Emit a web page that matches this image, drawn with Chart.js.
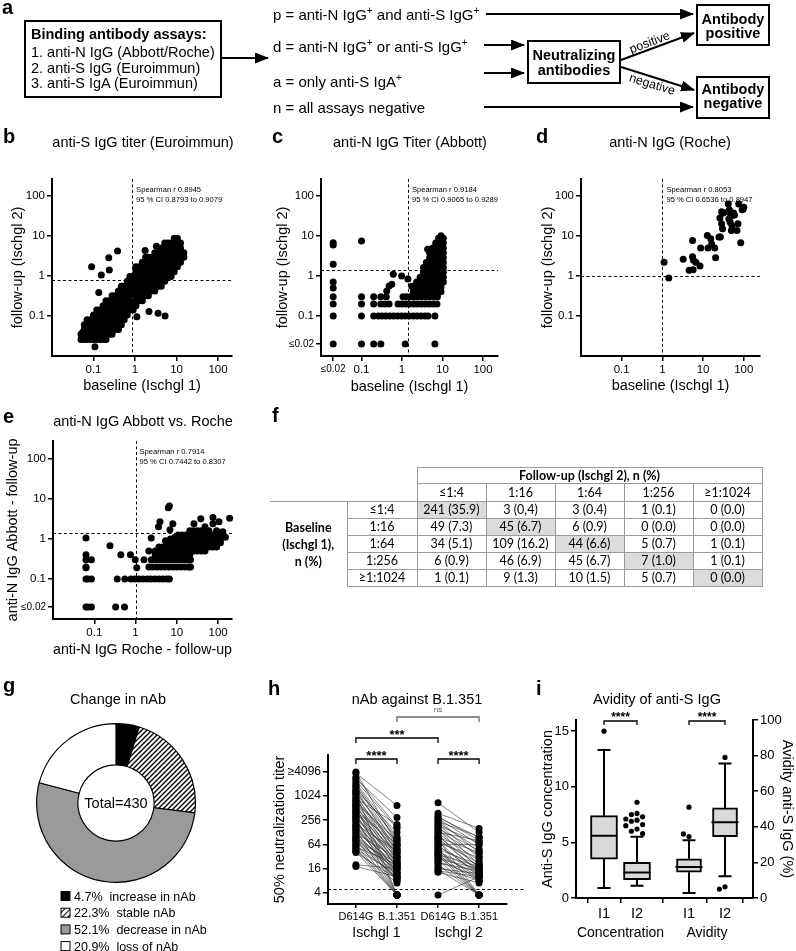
<!DOCTYPE html>
<html>
<head>
<meta charset="utf-8">
<script src="https://cdn.jsdelivr.net/npm/chart.js@4.4.1/dist/chart.umd.min.js"></script>
<style>
html,body{margin:0;padding:0;background:#fff;}
#page{position:relative;width:796px;height:951px;overflow:hidden;background:#fff;font-family:"Liberation Sans",Arial,sans-serif;}
#page canvas{position:absolute;}
#ov{position:absolute;left:0;top:0;z-index:5;pointer-events:none;}
#ft{position:absolute;left:270px;top:467px;width:492px;border-collapse:collapse;table-layout:fixed;font-family:Lato,"Open Sans",sans-serif;font-size:12.5px;z-index:6;color:#000;}
#ft td{padding:0;border:1px solid #9a9a9a;text-align:center;vertical-align:middle;line-height:14px;white-space:nowrap;}
#ft td.nb{border:none;}
#ft td.bb{border:none;border-bottom:1px solid #9a9a9a;}
#ft td.sh{background:#dcdcdc;}
#ft td.bl{border-left:none;border-bottom:none;font-weight:bold;line-height:17px;}
#ft td.hd{font-weight:bold;}
</style>
</head>
<body>
<div id="page">
<svg id="ov" width="796" height="951" xmlns="http://www.w3.org/2000/svg" font-family="'Liberation Sans', Arial, sans-serif">
<defs>
<marker id="ah" viewBox="0 0 14 11" markerWidth="14" markerHeight="11" refX="13" refY="5.5" orient="auto" markerUnits="userSpaceOnUse"><path d="M0,0 L14,5.5 L0,11 z" fill="#000"/></marker>
<pattern id="hp" width="4" height="4" patternUnits="userSpaceOnUse" patternTransform="rotate(45)"><rect width="4" height="4" fill="#fff"/><line x1="0" y1="0" x2="0" y2="4" stroke="#000" stroke-width="2"/></pattern>
</defs>
<g font-weight="bold" font-size="20">
<text x="2" y="14">a</text>
<text x="3" y="143">b</text>
<text x="272" y="143">c</text>
<text x="536" y="143">d</text>
<text x="3" y="423">e</text>
<text x="272" y="422">f</text>
<text x="3" y="692">g</text>
<text x="268" y="695">h</text>
<text x="536" y="695">i</text>
</g>
<g font-size="14.5" text-anchor="middle">
<text x="143" y="147">anti-S IgG titer (Euroimmun)</text>
<text x="410" y="147">anti-N IgG Titer (Abbott)</text>
<text x="670" y="147">anti-N IgG (Roche)</text>
<text x="143" y="426">anti-N IgG Abbott vs. Roche</text>
<text x="118" y="704">Change in nAb</text>
<text x="417" y="704">nAb against B.1.351</text>
<text x="657" y="704">Avidity of anti-S IgG</text>
</g>
<g font-size="14.5">
<rect x="25" y="21" width="196" height="76" fill="none" stroke="#000" stroke-width="2"/>
<text x="31" y="39" font-weight="bold">Binding antibody assays:</text>
<text x="31" y="57">1. anti-N IgG (Abbott/Roche)</text>
<text x="31" y="73">2. anti-S IgG (Euroimmun)</text>
<text x="31" y="88">3. anti-S IgA (Euroimmun)</text>
<text x="273" y="20" font-size="15">p = anti-N IgG<tspan font-size="10" dy="-6">+</tspan><tspan dy="6"> and anti-S IgG</tspan><tspan font-size="10" dy="-6">+</tspan></text>
<text x="273" y="52" font-size="15">d = anti-N IgG<tspan font-size="10" dy="-6">+</tspan><tspan dy="6"> or anti-S IgG</tspan><tspan font-size="10" dy="-6">+</tspan></text>
<text x="273" y="87" font-size="15">a = only anti-S IgA<tspan font-size="10" dy="-6">+</tspan></text>
<text x="273" y="113" font-size="15">n = all assays negative</text>
<g stroke="#000" stroke-width="2">
<line x1="221" y1="58" x2="268" y2="58" marker-end="url(#ah)"/>
<line x1="486" y1="14" x2="693" y2="14" marker-end="url(#ah)"/>
<line x1="484" y1="45" x2="524" y2="45" marker-end="url(#ah)"/>
<line x1="484" y1="73" x2="524" y2="73" marker-end="url(#ah)"/>
<line x1="484" y1="107" x2="693" y2="107" marker-end="url(#ah)"/>
<line x1="621" y1="60" x2="694" y2="33" marker-end="url(#ah)"/>
<line x1="621" y1="67" x2="694" y2="90" marker-end="url(#ah)"/>
</g>
<rect x="528" y="41" width="92" height="42" fill="#fff" stroke="#000" stroke-width="2"/>
<rect x="697" y="5" width="72" height="40" fill="#fff" stroke="#000" stroke-width="2"/>
<rect x="697" y="77" width="72" height="41" fill="#fff" stroke="#000" stroke-width="2"/>
<g font-weight="bold" text-anchor="middle">
<text x="574" y="60">Neutralizing</text>
<text x="574" y="75">antibodies</text>
<text x="733" y="24">Antibody</text>
<text x="733" y="38">positive</text>
<text x="733" y="94">Antibody</text>
<text x="733" y="108">negative</text>
</g>
<text transform="translate(651,46) rotate(-21)" text-anchor="middle" font-size="12.5">positive</text>
<text transform="translate(651,88) rotate(17)" text-anchor="middle" font-size="12.5">negative</text>
</g>
<g id="gextra"></g>
</svg>
<table id="ft"></table>
</div>
<script>
// ================= DATA =================
// b: anti-S IgG (Euroimmun) baseline vs follow-up; dense cloud read column by column [x, [y...]]
const bCloud = [
 [0.05,[0.026,0.035]],
 [0.06,[0.026,0.035,0.046,0.06]],
 [0.07,[0.026,0.035,0.046,0.06,0.08]],
 [0.085,[0.026,0.035,0.046,0.06,0.08]],
 [0.1,[0.026,0.035,0.046,0.06,0.08,0.105]],
 [0.12,[0.026,0.035,0.046,0.06,0.08,0.105,0.14]],
 [0.14,[0.026,0.035,0.046,0.06,0.08,0.105,0.14]],
 [0.17,[0.026,0.035,0.046,0.06,0.08,0.105,0.14,0.18]],
 [0.2,[0.026,0.035,0.046,0.06,0.08,0.105,0.14,0.18,0.24]],
 [0.24,[0.035,0.046,0.06,0.08,0.105,0.14,0.18,0.24]],
 [0.28,[0.035,0.046,0.06,0.08,0.105,0.14,0.18,0.24,0.32]],
 [0.33,[0.046,0.06,0.08,0.105,0.14,0.18,0.24,0.32]],
 [0.4,[0.046,0.06,0.08,0.105,0.14,0.18,0.24,0.32,0.42]],
 [0.47,[0.06,0.08,0.105,0.14,0.18,0.24,0.32,0.42,0.55]],
 [0.55,[0.08,0.105,0.14,0.18,0.24,0.32,0.42,0.55]],
 [0.65,[0.105,0.14,0.18,0.24,0.32,0.42,0.55,0.73]],
 [0.75,[0.14,0.24,0.32,0.42,0.55,0.73,0.96]],
 [0.9,[0.14,0.18,0.42,0.55,0.73,0.96]],
 [1.05,[0.18,0.24,0.32,0.55,0.73,0.96,1.27,1.7]],
 [1.25,[0.24,0.32,0.42,0.55,0.73,0.96,1.27,1.7]],
 [1.5,[0.24,0.32,0.42,0.55,0.73,0.96,1.27,1.7,2.2]],
 [1.8,[0.32,0.42,0.55,0.73,0.96,1.27,1.7,2.2,2.9]],
 [2.1,[0.32,0.42,0.55,0.73,0.96,1.27,1.7,2.2,2.9]],
 [2.5,[0.42,0.55,0.73,0.96,1.27,1.7,2.2,2.9]],
 [3,[0.42,0.55,0.73,0.96,1.27,1.7,2.2,2.9,3.8]],
 [3.6,[0.55,0.73,0.96,1.27,1.7,2.2,2.9,3.8]],
 [4.3,[0.55,0.73,0.96,1.27,1.7,2.2,2.9,3.8,5]],
 [5.2,[0.73,0.96,1.27,1.7,2.2,2.9,3.8,5,6.6]],
 [6.2,[0.96,1.27,1.7,2.2,2.9,3.8,5,6.6]],
 [7.4,[0.96,1.27,1.7,2.2,2.9,3.8,5,6.6]],
 [8.8,[1.27,1.7,2.2,2.9,3.8,5,6.6,8.7]],
 [10.5,[1.7,2.2,2.9,3.8,5,6.6,8.7]],
 [12.5,[2.2,2.9,3.8,5,6.6]],
 [15,[2.9,3.8]]
];
const bOutliers = [[0.09,1.7],[0.154,1.06],[0.24,1.4],[0.233,2.85],[0.38,4.2],[0.134,0.385],[1.75,4.3],[3.27,5.5],[2.17,0.13],[3.6,0.116],[5.3,0.1],[1.11,0.096],[0.055,0.039],[0.108,0.017]];

// c: anti-N IgG (Abbott)
const cRowY = [0.3, 0.2, 0.1, 0.02];
const cRowX = [
 [0.02,0.1,0.2,0.3,0.41,1.06,1.3,1.6,2.0,2.5,3.1,3.9,4.8,6.0,7.5],
 [0.02,0.1,0.2,0.3,0.38,0.48,0.8,1.0,1.25,1.55,1.95,2.4,3.0,3.75,4.7,5.9,7.3],
 [0.02,0.1,0.2,0.26,0.32,0.4,0.5,0.62,0.78,0.97,1.2,1.5,1.9,2.35,2.95,3.7,4.4,6.5],
 [0.02,0.1,0.2,0.3,1.2,6.5]
];
const cCloud = [
 [1.9,[0.4,0.53]],
 [2.3,[0.4,0.53,0.7]],
 [2.8,[0.4,0.53,0.7,0.93]],
 [3.4,[0.4,0.53,0.7,0.93,1.23,1.63]],
 [4.0,[0.4,0.53,0.7,0.93,1.23,1.63,2.15]],
 [4.8,[0.4,0.53,0.7,0.93,1.23,1.63,2.15,2.85,3.8]],
 [5.7,[0.4,0.53,0.7,0.93,1.23,1.63,2.15,2.85,3.8,5]],
 [6.8,[0.4,0.53,0.7,0.93,1.23,1.63,2.15,2.85,3.8,5,6.6]],
 [8.0,[0.4,0.53,0.7,0.93,1.23,1.63,2.15,2.85,3.8,5,6.6,8.7]],
 [9.2,[0.4,0.53,0.7,0.93,1.23,1.63,2.15,2.85,3.8,5,6.6,8.7,10]],
 [10.5,[0.7,0.93,1.23,1.63,2.15,2.85,3.8,5,6.6,8.7]]
];
const cScatter = [[0.02,6.7],[0.02,5.9],[0.02,1.95],[0.02,0.7],[0.02,0.5],[0.1,7.4],[0.61,1.1],[0.98,1.0],[0.48,0.56],[0.56,0.62],[0.42,0.42],[1.4,0.84],[1.75,0.55],[4.3,4.6]];

// d: anti-N IgG (Roche)
const dPoints = [[1.1,2.2],[1.43,0.89],[3.25,2.6],[5.5,7.7],[5.5,3.0],[5.8,2.45],[4.55,1.38],[5.7,1.43],[6.6,2.2],[8.4,1.77],[8.7,4.95],[13.2,4.95],[12.7,10.2],[15.4,8.4],[16.2,6.3],[19.3,4.95],[20.3,2.85],[24.5,9.3],[26.5,9.3],[25.9,28],[28.5,40],[31.5,37],[28.5,20],[30,15],[41.5,62],[41.5,40],[43,26.5],[44,45],[46,37],[46,22],[49.5,13.6],[51,18],[53,32],[56,37],[59,33],[68,13.6],[72,20],[75,62],[84,6.7],[91,45],[100,52],[96,47]];

// e: anti-N IgG Abbott vs Roche (follow-up)
const eRowY = [0.3, 0.2, 0.1, 0.02];
const eRowX = [
 [0.063,0.085,0.98,1.6,2.4,3.0,3.7,4.6,5.8,7.2,9,11.2,14,17.5,21.5],
 [0.063,2.1,2.6,3.3,4.1,5.1,6.4,8,10,12.5,15.6,19.5,21.5],
 [0.063,0.07,0.085,0.36,0.55,0.77,0.96,1.2,1.5,1.9,2.35,2.95,3.7,4.6,5.7,6.6],
 [0.063,0.07,0.085,0.33,0.54]
];
const eCloud = [
 [3.0,[0.4,0.5]],
 [3.7,[0.4,0.5,0.63]],
 [4.6,[0.4,0.5,0.63]],
 [5.7,[0.4,0.5,0.63,0.8]],
 [7,[0.4,0.5,0.63,0.8,1.0]],
 [8.7,[0.4,0.5,0.63,0.8,1.0]],
 [10.8,[0.4,0.5,0.63,0.8,1.0,1.26]],
 [13.4,[0.4,0.5,0.63,0.8,1.0,1.26]],
 [16.6,[0.4,0.5,0.63,0.8,1.0,1.26]],
 [20.6,[0.4,0.5,0.63,0.8,1.0,1.26,1.6]],
 [25.5,[0.5,0.63,0.8,1.0,1.26,1.6]],
 [31.6,[0.5,0.63,0.8,1.0,1.26,1.6]],
 [39,[0.5,0.63,0.8,1.0,1.26,1.6]],
 [48,[0.5,0.63,0.8,1.0,1.26,1.6,2.0]],
 [60,[0.63,0.8,1.0,1.26,1.6]],
 [74,[0.63,0.8,1.0,1.26]],
 [92,[0.63,0.8,1.0,1.26,1.6]],
 [114,[0.8,1.0,1.26]]
];
const eScatter = [[0.063,1.06],[0.063,0.4],[0.063,0.19],[0.24,0.67],[0.44,0.4],[0.75,0.4],[1.07,0.19],[6.6,6.6],[6.2,6.0],[3.9,2.7],[3.6,2.0],[8,2.4],[6.8,1.7],[2.4,1.06],[5.3,0.9],[9,1.1],[2.1,0.5],[26,2.4],[38,3.2],[75,2.4],[75,3.4],[105,2.7],[190,3.3],[130,1.5],[150,1.1]];

// f: cross table
const fCols = ['≤1:4','1:16','1:64','1:256','≥1:1024'];
const fRows = ['≤1:4','1:16','1:64','1:256','≥1:1024'];
const fCounts = [[241,3,3,1,0],[49,45,6,0,0],[34,109,44,5,1],[6,46,45,7,1],[1,9,10,5,0]];
const fPct = [['35.9','0,4','0.4','0.1','0.0'],['7.3','6.7','0.9','0.0','0.0'],['5.1','16.2','6.6','0.7','0.1'],['0.9','6.9','6.7','1.0','0.1'],['0.1','1.3','1.5','0.7','0.0']];

// g: change in nAb
const gLabels = ['increase in nAb','stable nAb','decrease in nAb','loss of nAb'];
const gValues = [4.7, 22.3, 52.1, 20.9];
const gTotal = 430;

// h: nAb against B.1.351 (pairs: D614G, B.1.351)
const hCats = ['D614G','B.1.351','D614G','B.1.351'];
const hGroups = ['Ischgl 1','Ischgl 2'];
const hYTicks = [4,16,64,256,1024,4096];
const hYLabels = ['4','16','64','256','1024','≥4096'];
const hCutoff = 5;
const hIschgl1 = [[4096,64],[3800,600],[3000,180],[2800,300],[2500,160],[2200,100],[2000,80],[1800,60],[1700,90],[1500,40],[1400,128],[1300,50],[1200,70],[1100,30],[1000,45],[900,200],[850,35],[800,60],[750,25],[700,80],[650,40],[600,20],[560,32],[512,50],[480,16],[450,28],[420,64],[400,22],[380,40],[350,12],[330,24],[300,18],[280,32],[256,10],[240,20],[220,14],[200,45],[190,8],[180,24],[170,16],[160,12],[150,3.5],[140,20],[130,10],[120,30],[110,14],[100,8],[96,18],[90,3.5],[85,12],[80,22],[75,9],[70,16],[64,3.5],[60,10],[56,20],[52,3.5],[48,12],[45,7],[42,3.5],[40,9],[20,16],[18,10],[1200,3.5],[600,3.5],[300,3.5]];
const hIschgl2 = [[700,128],[380,160],[320,80],[300,96],[280,64],[256,40],[240,100],[220,50],[200,30],[190,70],[180,20],[160,45],[150,16],[140,35],[128,80],[120,25],[110,12],[100,18],[96,40],[90,14],[85,3.5],[80,22],[75,10],[70,30],[64,64],[60,12],[56,16],[52,3.5],[48,20],[45,8],[42,14],[40,3.5],[38,10],[36,18],[34,3.5],[32,12],[30,8],[28,16],[26,3.5],[24,10],[22,14],[20,3.5],[18,8],[16,12],[15,3.5],[14,10],[13,7],[3.5,10]];
const hSig = [{a:0,b:1,t:'****'},{a:2,b:3,t:'****'},{a:0,b:2,t:'***'},{a:1,b:3,t:'ns'}];

// i: avidity boxes (concentration on left axis, avidity % on right axis)
const iCats = ['I1','I2','I1','I2'];
const iGroups = ['Concentration','Avidity'];
const iConcBoxes = [{lo:0.9,q1:3.5,med:5.6,q3:7.4,hi:13.3},{lo:1.1,q1:1.65,med:2.3,q3:3.2,hi:5.5}];
const iAvidBoxes = [{lo:2.8,q1:14.5,med:17.4,q3:22,hi:32.5},{lo:12.2,q1:34.5,med:42.5,q3:50.6,hi:75.6}];
const iConcOut = [[15.0],[8.6,7.6,7.5,7.3,7.1,7.0,6.9,6.6,6.5,6.2,6.0,5.8]];
const iAvidOut = [[34.5,36,51],[79,6.3,5.0]];
const iSig = [{a:0,b:1,t:'****'},{a:2,b:3,t:'****'}];

// ================= LAYOUT / RENDER =================
const FONT = '"Liberation Sans", Arial, Helvetica, sans-serif';
Chart.defaults.font.family = FONT;
Chart.defaults.color = '#000';
Chart.defaults.animation = false;
Chart.defaults.responsive = false;
Chart.defaults.devicePixelRatio = 1;
Chart.defaults.plugins.legend.display = false;
Chart.defaults.plugins.tooltip.enabled = false;

const page = document.getElementById('page');
function mkCanvas(l,t,w,h){const c=document.createElement('canvas');c.width=w;c.height=h;c.style.left=l+'px';c.style.top=t+'px';c.style.width=w+'px';c.style.height=h+'px';page.appendChild(c);return c;}
const cols = arr => arr.flatMap(([x,ys]) => ys.map(y => [x,y]));
const rows = (ys, xs) => ys.flatMap((y,i) => xs[i].map(x => [x,y]));

const annoPlugin = {
 id:'anno',
 beforeDatasetsDraw(chart,args,o){
  const {ctx,chartArea:a,scales:{x,y}} = chart;
  ctx.save(); ctx.strokeStyle='#000'; ctx.lineWidth=1; ctx.setLineDash([3,2.5]);
  if(o.vx!=null){const px=Math.round(x.getPixelForValue(o.vx))+0.5;ctx.beginPath();ctx.moveTo(px,a.top);ctx.lineTo(px,a.bottom);ctx.stroke();}
  if(o.hy!=null){const py=Math.round(y.getPixelForValue(o.hy))+0.5;ctx.beginPath();ctx.moveTo(a.left,py);ctx.lineTo(a.right,py);ctx.stroke();}
  ctx.restore();
 },
 afterDatasetsDraw(chart,args,o){
  if(!o.text) return;
  const {ctx,chartArea:a,scales:{x}} = chart;
  ctx.save(); ctx.fillStyle='#000'; ctx.font='7.6px '+FONT; ctx.textBaseline='middle';
  const px = x.getPixelForValue(o.vx)+4;
  for(let i=0;i<o.text.length;i++) ctx.fillText(o.text[i], px, a.top+11+i*10);
  ctx.restore();
 }
};

function axisStyle(){return {border:{display:true,color:'#000',width:2},grid:{display:true,drawOnChartArea:false,drawTicks:true,tickLength:5,color:'#000',lineWidth:1.5}};}
function fixedTicks(vals,labs,size){
 const sz=size||12;
 return {afterBuildTicks:s=>{s.ticks=vals.map(v=>({value:v}));},
  ticks:{callback:(v,i)=>labs[i],font:c=>({size:(String(labs[c.index]||'').charAt(0)==='≤')?10:sz}),color:'#000',padding:2,autoSkip:false,maxRotation:0,minRotation:0}};
}

function logChart(o){
 const [L,T,W,H]=o.box; const cv=mkCanvas(L,T,W,H);
 const yW=o.area[0]-L, padR=L+W-o.area[1], padT=o.area[2]-T, xH=T+H-o.area[3];
 new Chart(cv,{
  type:'scatter',
  data:{datasets:[{data:o.points.map(p=>({x:p[0],y:p[1]})),pointRadius:3.5,pointHoverRadius:3.5,backgroundColor:'#000',borderColor:'#000',borderWidth:0,clip:false}]},
  options:{
   layout:{padding:{left:0,top:padT,right:padR,bottom:0}},
   scales:{
    x:Object.assign({type:'logarithmic',bounds:'data',min:o.xr[0],max:o.xr[1],afterFit:s=>{s.height=xH;},
      title:{display:true,text:o.xTitle,font:{size:14.5},color:'#000',padding:{top:0,bottom:T+H-o.xTitleY-8.7}}},axisStyle(),fixedTicks(o.xt,o.xl,11.5)),
    y:Object.assign({type:'logarithmic',bounds:'data',min:o.yr[0],max:o.yr[1],afterFit:s=>{s.width=yW;},
      title:{display:true,text:o.yTitle,font:{size:14.5},color:'#000',padding:{top:o.yTitleX-L-8.7,bottom:0}}},axisStyle(),fixedTicks(o.yt,o.yl,11.5))
   },
   plugins:{anno:{vx:o.vx,hy:o.hy,text:o.text}}
  },
  plugins:[annoPlugin]
 });
}

const decT=[0.1,1,10,100], decL=['0.1','1','10','100'];
logChart({box:[0,170,250,230],area:[52,232,178,356],xr:[0.01,217],yr:[0.01,264],
 xt:decT,xl:decL,yt:[0.1,1,10,100],yl:decL,xTitle:'baseline (Ischgl 1)',xTitleY:386,yTitle:'follow-up (Ischgl 2)',yTitleX:18,
 points:cols(bCloud).concat(bOutliers),vx:0.85,hy:0.8,text:['Spearman r 0.8945','95 % CI 0.8793 to 0.9079']});
logChart({box:[265,170,250,230],area:[321,498,178,356],xr:[0.01,235],yr:[0.01,264],
 xt:[0.02,0.1,1,10,100],xl:['≤0.02','0.1','1','10','100'],yt:[0.02,0.1,1,10,100],yl:['≤0.02','0.1','1','10','100'],
 xTitle:'baseline (Ischgl 1)',xTitleY:387,yTitle:'follow-up (Ischgl 2)',yTitleX:283,
 points:rows(cRowY,cRowX).concat(cols(cCloud),cScatter),vx:1.4,hy:1.4,text:['Spearman r 0.9184','95 % CI 0.9065 to 0.9289']});
logChart({box:[530,170,266,230],area:[581,760,178,356],xr:[0.01,250],yr:[0.01,264],
 xt:decT,xl:decL,yt:decT,yl:decL,xTitle:'baseline (Ischgl 1)',xTitleY:386,yTitle:'follow-up (Ischgl 2)',yTitleX:548,
 points:dPoints,vx:1,hy:1,text:['Spearman r 0.8053','95 % CI 0.6536 to 0.8947']});
logChart({box:[0,432,250,230],area:[53,232,440,619],xr:[0.01,217],yr:[0.01,280],
 xt:decT,xl:decL,yt:[0.02,0.1,1,10,100],yl:['≤0.02','0.1','1','10','100'],
 xTitle:'anti-N IgG Roche - follow-up',xTitleY:650,yTitle:'anti-N IgG Abbott - follow-up',yTitleX:13,
 points:rows(eRowY,eRowX).concat(cols(eCloud),eScatter),vx:1,hy:1.4,text:['Spearman r 0.7914','95 % CI 0.7442 to 0.8307']});

// ---- f table ----
(function(){
 let h='<colgroup><col style="width:77px"><col style="width:70px">'+fCols.map(()=>'<col style="width:69px">').join('')+'</colgroup>';
 h+='<tr style="height:16px"><td class="nb"></td><td class="nb"></td><td class="hd" colspan="5">Follow-up (Ischgl 2), n (%)</td></tr>';
 h+='<tr style="height:18px"><td class="bb"></td><td class="bb"></td>'+fCols.map(c=>'<td>'+c+'</td>').join('')+'</tr>';
 fRows.forEach((r,i)=>{
  h+='<tr style="height:17px">'+(i===0?'<td class="bl" rowspan="5">Baseline<br>(Ischgl 1),<br>n (%)</td>':'')+'<td>'+r+'</td>'+
   fCounts[i].map((n,j)=>'<td'+(i===j?' class="sh"':'')+'>'+n+' ('+fPct[i][j]+')</td>').join('')+'</tr>';
 });
 document.getElementById('ft').innerHTML=h;
})();

// ---- g doughnut ----
function hatch(){const c=document.createElement('canvas');c.width=5;c.height=5;const x=c.getContext('2d');x.fillStyle='#fff';x.fillRect(0,0,5,5);x.strokeStyle='#000';x.lineWidth=1.4;x.beginPath();x.moveTo(-1,6);x.lineTo(6,-1);x.moveTo(-1,1);x.lineTo(1,-1);x.moveTo(4,6);x.lineTo(6,4);x.stroke();return x.createPattern(c,'repeat');}
const gFillsCanvas=['#000',hatch(),'#9a9a9a','#fff'];
new Chart(mkCanvas(35,722,162,162),{type:'doughnut',data:{labels:gLabels,datasets:[{data:gValues,backgroundColor:gFillsCanvas,borderColor:'#000',borderWidth:1.2}]},options:{cutout:'48%',layout:{padding:1}}});
(function(){
 const gFills=['#000','url(#hp)','#9a9a9a','#fff'];
 let s='<text x="116" y="808" text-anchor="middle" font-size="14.5">Total='+gTotal+'</text>';
 gLabels.forEach((l,i)=>{const y=891.5+i*16.7;s+='<rect x="61" y="'+y+'" width="9" height="9" fill="'+gFills[i]+'" stroke="#000" stroke-width="1"/><text x="74" y="'+(y+9)+'" font-size="12.5">'+gValues[i].toFixed(1)+'%\u00a0\u00a0'+l+'</text>';});
 document.getElementById('gextra').innerHTML=s;
})();

// ---- h paired titers ----
const hBracketY=[4,4,-17,-38];
const hPlugin={id:'hDeco',afterDatasetsDraw(chart){
 const {ctx,chartArea:a,scales:{x,y}}=chart;
 ctx.save();
 ctx.strokeStyle='#000';ctx.lineWidth=1;ctx.setLineDash([3,2.5]);
 const py=Math.round(y.getPixelForValue(hCutoff))+0.5;ctx.beginPath();ctx.moveTo(a.left,py);ctx.lineTo(a.right+18,py);ctx.stroke();
 ctx.setLineDash([]);
 hSig.forEach((s,i)=>{
  const x1=x.getPixelForValue(s.a),x2=x.getPixelForValue(s.b),yy=a.top+hBracketY[i];
  const ns=s.t==='ns'; ctx.strokeStyle=ns?'#666':'#000'; ctx.fillStyle=ns?'#555':'#000'; ctx.lineWidth=1.3;
  ctx.beginPath();ctx.moveTo(x1,yy+5);ctx.lineTo(x1,yy);ctx.lineTo(x2,yy);ctx.lineTo(x2,yy+5);ctx.stroke();
  ctx.textAlign='center';ctx.textBaseline='alphabetic';
  if(ns){ctx.font='8px '+FONT;ctx.fillText(s.t,(x1+x2)/2,yy-5);}else{ctx.font='bold 13px '+FONT;ctx.fillText(s.t,(x1+x2)/2,yy+1);}
 });
 ctx.fillStyle='#000';ctx.font='14px '+FONT;ctx.textAlign='center';ctx.textBaseline='middle';
 hGroups.forEach((g,i)=>{const cx=(x.getPixelForValue(2*i)+x.getPixelForValue(2*i+1))/2;ctx.fillText(g,cx,a.bottom+29);});
 ctx.restore();
}};
(function(){
 const lineData=[],pts=[];
 hIschgl1.forEach(([p,q])=>{lineData.push({x:0,y:p},{x:1,y:q},{x:null,y:null});pts.push({x:0,y:p},{x:1,y:q});});
 hIschgl2.forEach(([p,q])=>{lineData.push({x:2,y:p},{x:3,y:q},{x:null,y:null});pts.push({x:2,y:p},{x:3,y:q});});
 const xs=Object.assign({type:'linear',bounds:'data',min:-0.68,max:3.68,afterFit:s=>{s.height=47;}},axisStyle(),fixedTicks([0,1,2,3],hCats,11));
 xs.grid.tickLength=4;
 new Chart(mkCanvas(265,705,270,246),{
  type:'scatter',
  data:{datasets:[
   {type:'line',data:lineData,borderColor:'#333',borderWidth:0.6,pointRadius:0,spanGaps:false,fill:false,order:2},
   {data:pts,pointRadius:3.5,pointHoverRadius:3.5,backgroundColor:'#000',borderWidth:0,order:1,clip:false}
  ]},
  options:{
   layout:{padding:{left:0,top:50,right:28,bottom:0}},
   scales:{
    x:xs,
    y:Object.assign({type:'logarithmic',bounds:'data',min:2.1,max:10800,afterFit:s=>{s.width=63;},
     title:{display:true,text:'50% neutralization titer',font:{size:14.5},color:'#000',padding:{top:6.3,bottom:0}}},axisStyle(),fixedTicks(hYTicks,hYLabels,12))
   }
  },
  plugins:[hPlugin]
 });
})();

// ---- i box plots ----
const iPos=[28,61,113,149];
function dodge(vals,ppu,r){const placed=[];return vals.map(v=>{const py=v*ppu;for(const off of [0,-2*r,2*r,-4*r,4*r]){if(!placed.some(p=>Math.abs(p.off-off)<2*r-0.1&&Math.abs(p.py-py)<2*r)){placed.push({off,py});return off;}}return 0;});}
const iPlugin={id:'iDeco',afterDatasetsDraw(chart){
 const {ctx,chartArea:a,scales}=chart; const xs=scales.x;
 ctx.save();ctx.strokeStyle='#000';ctx.lineWidth=2;
 const draw=(b,pos,ys)=>{const px=xs.getPixelForValue(pos),hw=13.5,cw=6.5,p=v=>ys.getPixelForValue(v);
  ctx.beginPath();
  ctx.moveTo(px,p(b.q3));ctx.lineTo(px,p(b.hi));ctx.moveTo(px-cw,p(b.hi));ctx.lineTo(px+cw,p(b.hi));
  ctx.moveTo(px,p(b.q1));ctx.lineTo(px,p(b.lo));ctx.moveTo(px-cw,p(b.lo));ctx.lineTo(px+cw,p(b.lo));
  ctx.moveTo(px-hw,p(b.med));ctx.lineTo(px+hw,p(b.med));ctx.stroke();};
 iConcBoxes.forEach((b,i)=>draw(b,iPos[i],scales.y));
 iAvidBoxes.forEach((b,i)=>draw(b,iPos[i+2],scales.y2));
 ctx.lineWidth=1.3;ctx.fillStyle='#000';
 iSig.forEach(s=>{const x1=xs.getPixelForValue(iPos[s.a]),x2=xs.getPixelForValue(iPos[s.b]),yy=a.top+1;
  ctx.beginPath();ctx.moveTo(x1,yy+4);ctx.lineTo(x1,yy);ctx.lineTo(x2,yy);ctx.lineTo(x2,yy+4);ctx.stroke();
  ctx.font='bold 12px '+FONT;ctx.textAlign='center';ctx.fillText(s.t,(x1+x2)/2,yy);});
 ctx.font='14px '+FONT;ctx.textAlign='center';ctx.textBaseline='middle';
 iGroups.forEach((g,i)=>{const cx=(xs.getPixelForValue(iPos[2*i])+xs.getPixelForValue(iPos[2*i+1]))/2;ctx.fillText(g,cx,a.bottom+35);});
 ctx.restore();
}};
(function(){
 const ppuL=178/16, ppuR=178/100;
 const concOut=[],avidOut=[];
 iConcOut.forEach((vs,i)=>{const off=dodge(vs,ppuL,2.8);vs.forEach((v,k)=>concOut.push({x:iPos[i]+off[k],y:v}));});
 iAvidOut.forEach((vs,i)=>{const off=dodge(vs,ppuR,2.8);vs.forEach((v,k)=>avidOut.push({x:iPos[i+2]+off[k],y:v}));});
 new Chart(mkCanvas(530,705,266,246),{
  type:'bar',
  data:{datasets:[
   {data:iConcBoxes.map((b,i)=>({x:iPos[i],y:[b.q1,b.q3]})),yAxisID:'y',backgroundColor:'#d9d9d9',borderColor:'#000',borderWidth:2,borderSkipped:false,barThickness:27,grouped:false},
   {data:iAvidBoxes.map((b,i)=>({x:iPos[i+2],y:[b.q1,b.q3]})),yAxisID:'y2',backgroundColor:'#d9d9d9',borderColor:'#000',borderWidth:2,borderSkipped:false,barThickness:25,grouped:false},
   {type:'scatter',data:concOut,yAxisID:'y',pointRadius:2.6,backgroundColor:'#000',borderWidth:0},
   {type:'scatter',data:avidOut,yAxisID:'y2',pointRadius:2.6,backgroundColor:'#000',borderWidth:0}
  ]},
  options:{
   layout:{padding:{left:0,top:15,right:0,bottom:0}},
   scales:{
    x:Object.assign({type:'linear',bounds:'data',offset:false,min:0,max:177,afterFit:s=>{s.height=53;}},axisStyle(),fixedTicks(iPos,iCats,14.5)),
    y:Object.assign({type:'linear',position:'left',bounds:'data',min:0,max:16,afterFit:s=>{s.width=46;},
     title:{display:true,text:'Anti-S IgG concentration',font:{size:14.5},color:'#000',padding:{top:9.3,bottom:0}}},axisStyle(),fixedTicks([0,5,10,15],['0','5','10','15'],13)),
    y2:Object.assign({type:'linear',position:'right',bounds:'data',min:0,max:100,afterFit:s=>{s.width=43;},
     title:{display:true,text:'Avidity anti-S IgG (%)',font:{size:14.5},color:'#000',padding:{top:0.3,bottom:0}}},axisStyle(),fixedTicks([0,20,40,60,80,100],['0','20','40','60','80','100'],13))
   }
  },
  plugins:[iPlugin]
 });
})();
</script>
</body>
</html>
